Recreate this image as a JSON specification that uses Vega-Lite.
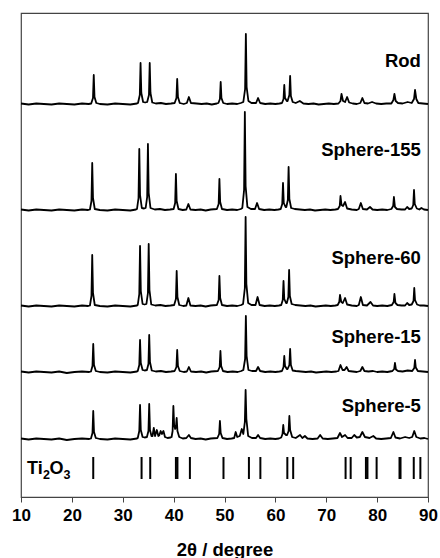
{
  "$schema": "https://vega.github.io/schema/vega-lite/v6.json",
  "width": 407,
  "height": 484,
  "autosize": "none",
  "padding": {"left": 21, "top": 13, "right": 12, "bottom": 61},
  "config": {
    "view": {"stroke": "#444", "strokeWidth": 1.2},
    "font": "Liberation Sans"
  },
  "datasets": {
    "xrd": [
      {"s":"Rod","x":10,"y":393.5},{"s":"Rod","x":11.5,"y":392.5},{"s":"Rod","x":13,"y":393.5},{"s":"Rod","x":14.5,"y":393},{"s":"Rod","x":16,"y":392.5},{"s":"Rod","x":17.5,"y":393.5},{"s":"Rod","x":19,"y":393},{"s":"Rod","x":20.5,"y":392.5},{"s":"Rod","x":22,"y":393.5},{"s":"Rod","x":23.3,"y":393},
      {"s":"Rod","x":23.8,"y":393.5},{"s":"Rod","x":24.15,"y":399},{"s":"Rod","x":24.3,"y":422},{"s":"Rod","x":24.45,"y":400},{"s":"Rod","x":24.8,"y":394},
      {"s":"Rod","x":25.5,"y":393},{"s":"Rod","x":27,"y":392.5},{"s":"Rod","x":28.5,"y":393.5},{"s":"Rod","x":30,"y":393},{"s":"Rod","x":31.5,"y":392.5},{"s":"Rod","x":32.8,"y":393.5},
      {"s":"Rod","x":33.0,"y":394},{"s":"Rod","x":33.35,"y":402},{"s":"Rod","x":33.5,"y":434},{"s":"Rod","x":33.65,"y":404},{"s":"Rod","x":34.0,"y":395},{"s":"Rod","x":34.4,"y":394.5},
      {"s":"Rod","x":34.8,"y":395},{"s":"Rod","x":35.15,"y":402},{"s":"Rod","x":35.3,"y":434},{"s":"Rod","x":35.45,"y":404},{"s":"Rod","x":35.8,"y":394.5},
      {"s":"Rod","x":36.5,"y":393.5},{"s":"Rod","x":37.5,"y":394},{"s":"Rod","x":38.5,"y":393},{"s":"Rod","x":39.5,"y":393.5},{"s":"Rod","x":40.2,"y":394},
      {"s":"Rod","x":40.55,"y":399},{"s":"Rod","x":40.7,"y":418},{"s":"Rod","x":40.85,"y":400},{"s":"Rod","x":41.2,"y":394},
      {"s":"Rod","x":42,"y":393},{"s":"Rod","x":42.6,"y":394},{"s":"Rod","x":43.0,"y":400},{"s":"Rod","x":43.4,"y":394},{"s":"Rod","x":44.5,"y":393.5},{"s":"Rod","x":45.5,"y":393},{"s":"Rod","x":46.5,"y":393.5},{"s":"Rod","x":47.5,"y":392.5},{"s":"Rod","x":48.5,"y":393.5},{"s":"Rod","x":48.8,"y":394},
      {"s":"Rod","x":49.1,"y":398},{"s":"Rod","x":49.25,"y":415},{"s":"Rod","x":49.4,"y":399},{"s":"Rod","x":49.75,"y":394},
      {"s":"Rod","x":50.5,"y":393},{"s":"Rod","x":51.5,"y":393.5},{"s":"Rod","x":52.5,"y":393},{"s":"Rod","x":53.2,"y":394},{"s":"Rod","x":53.7,"y":395},
      {"s":"Rod","x":54.05,"y":408},{"s":"Rod","x":54.2,"y":463},{"s":"Rod","x":54.35,"y":410},{"s":"Rod","x":54.7,"y":396},
      {"s":"Rod","x":55.3,"y":394},{"s":"Rod","x":56.2,"y":394},{"s":"Rod","x":56.6,"y":399},{"s":"Rod","x":57.0,"y":394},{"s":"Rod","x":58,"y":393},{"s":"Rod","x":59,"y":393.5},{"s":"Rod","x":60,"y":393},{"s":"Rod","x":60.8,"y":393.5},{"s":"Rod","x":61.3,"y":394},
      {"s":"Rod","x":61.6,"y":398},{"s":"Rod","x":61.75,"y":412},{"s":"Rod","x":61.9,"y":399},{"s":"Rod","x":62.25,"y":396},
      {"s":"Rod","x":62.4,"y":396},{"s":"Rod","x":62.75,"y":402},{"s":"Rod","x":62.9,"y":421},{"s":"Rod","x":63.05,"y":401},{"s":"Rod","x":63.4,"y":395},
      {"s":"Rod","x":64,"y":394},{"s":"Rod","x":64.8,"y":396},{"s":"Rod","x":65.5,"y":393.5},{"s":"Rod","x":66.5,"y":393},{"s":"Rod","x":67.5,"y":393.5},{"s":"Rod","x":68.5,"y":392.5},{"s":"Rod","x":69.5,"y":393},{"s":"Rod","x":70.5,"y":393.5},{"s":"Rod","x":71.5,"y":393},{"s":"Rod","x":72.4,"y":393.5},
      {"s":"Rod","x":72.8,"y":396},{"s":"Rod","x":73.0,"y":403},{"s":"Rod","x":73.3,"y":396},{"s":"Rod","x":73.7,"y":395},{"s":"Rod","x":74.1,"y":400},{"s":"Rod","x":74.5,"y":394.5},{"s":"Rod","x":75.2,"y":393.5},{"s":"Rod","x":76,"y":393},{"s":"Rod","x":76.7,"y":394},{"s":"Rod","x":77.1,"y":399},{"s":"Rod","x":77.5,"y":394},{"s":"Rod","x":78.2,"y":393.5},{"s":"Rod","x":79,"y":395},{"s":"Rod","x":79.8,"y":393.5},{"s":"Rod","x":80.8,"y":393},{"s":"Rod","x":81.8,"y":393.5},{"s":"Rod","x":82.8,"y":393.5},
      {"s":"Rod","x":83.2,"y":397},{"s":"Rod","x":83.4,"y":403},{"s":"Rod","x":83.65,"y":396},{"s":"Rod","x":84.1,"y":394},{"s":"Rod","x":85,"y":393.5},{"s":"Rod","x":86,"y":395},{"s":"Rod","x":86.8,"y":394},{"s":"Rod","x":87.25,"y":398},{"s":"Rod","x":87.45,"y":407},{"s":"Rod","x":87.7,"y":398},{"s":"Rod","x":88.1,"y":394},{"s":"Rod","x":89,"y":393.5},{"s":"Rod","x":90,"y":393},

      {"s":"S155","x":10,"y":287.5},{"s":"S155","x":11.5,"y":286.5},{"s":"S155","x":13,"y":287.5},{"s":"S155","x":14.5,"y":287},{"s":"S155","x":16,"y":286.5},{"s":"S155","x":17.5,"y":287.5},{"s":"S155","x":19,"y":287},{"s":"S155","x":20.5,"y":286.5},{"s":"S155","x":22,"y":287.5},{"s":"S155","x":23.2,"y":287},
      {"s":"S155","x":23.55,"y":287.5},{"s":"S155","x":23.85,"y":296},{"s":"S155","x":24.0,"y":334},{"s":"S155","x":24.15,"y":299},{"s":"S155","x":24.5,"y":288},
      {"s":"S155","x":25.5,"y":287},{"s":"S155","x":27,"y":286.5},{"s":"S155","x":28.5,"y":287.5},{"s":"S155","x":30,"y":287},{"s":"S155","x":31.5,"y":286.5},{"s":"S155","x":32.6,"y":287.5},
      {"s":"S155","x":32.8,"y":288},{"s":"S155","x":33.1,"y":299},{"s":"S155","x":33.25,"y":348},{"s":"S155","x":33.4,"y":302},{"s":"S155","x":33.75,"y":289},{"s":"S155","x":34.2,"y":288.5},
      {"s":"S155","x":34.5,"y":289},{"s":"S155","x":34.8,"y":300},{"s":"S155","x":34.95,"y":353},{"s":"S155","x":35.1,"y":304},{"s":"S155","x":35.45,"y":289},
      {"s":"S155","x":36.3,"y":287.5},{"s":"S155","x":37.3,"y":288},{"s":"S155","x":38.3,"y":287},{"s":"S155","x":39.3,"y":287.5},{"s":"S155","x":40.0,"y":288},
      {"s":"S155","x":40.3,"y":294},{"s":"S155","x":40.45,"y":323},{"s":"S155","x":40.6,"y":296},{"s":"S155","x":40.95,"y":288},
      {"s":"S155","x":41.8,"y":287},{"s":"S155","x":42.5,"y":287.5},{"s":"S155","x":42.9,"y":293},{"s":"S155","x":43.3,"y":287.5},{"s":"S155","x":44.3,"y":287},{"s":"S155","x":45.3,"y":287.5},{"s":"S155","x":46.3,"y":286.5},{"s":"S155","x":47.3,"y":287.5},{"s":"S155","x":48.5,"y":288},
      {"s":"S155","x":48.85,"y":293},{"s":"S155","x":49.0,"y":318},{"s":"S155","x":49.15,"y":295},{"s":"S155","x":49.5,"y":288},
      {"s":"S155","x":50.5,"y":287},{"s":"S155","x":51.5,"y":287.5},{"s":"S155","x":52.5,"y":287},{"s":"S155","x":53.2,"y":288},{"s":"S155","x":53.5,"y":289},
      {"s":"S155","x":53.85,"y":307},{"s":"S155","x":54.0,"y":385},{"s":"S155","x":54.15,"y":311},{"s":"S155","x":54.5,"y":290},
      {"s":"S155","x":55.2,"y":288},{"s":"S155","x":56.0,"y":288},{"s":"S155","x":56.4,"y":294},{"s":"S155","x":56.8,"y":288},{"s":"S155","x":57.8,"y":287},{"s":"S155","x":58.8,"y":287.5},{"s":"S155","x":59.8,"y":287},{"s":"S155","x":60.6,"y":287.5},{"s":"S155","x":61.05,"y":288},
      {"s":"S155","x":61.35,"y":293},{"s":"S155","x":61.5,"y":314},{"s":"S155","x":61.65,"y":294},{"s":"S155","x":62.0,"y":290},
      {"s":"S155","x":62.15,"y":290},{"s":"S155","x":62.45,"y":297},{"s":"S155","x":62.6,"y":330},{"s":"S155","x":62.75,"y":298},{"s":"S155","x":63.1,"y":289},
      {"s":"S155","x":63.8,"y":288},{"s":"S155","x":64.8,"y":287.5},{"s":"S155","x":65.8,"y":287},{"s":"S155","x":66.8,"y":287.5},{"s":"S155","x":67.8,"y":286.5},{"s":"S155","x":68.8,"y":287},{"s":"S155","x":69.8,"y":287.5},{"s":"S155","x":70.8,"y":287},{"s":"S155","x":71.8,"y":287.5},{"s":"S155","x":72.3,"y":288},
      {"s":"S155","x":72.65,"y":291},{"s":"S155","x":72.8,"y":301},{"s":"S155","x":73.0,"y":292},{"s":"S155","x":73.3,"y":291},{"s":"S155","x":73.7,"y":295},{"s":"S155","x":74.1,"y":288.5},
      {"s":"S155","x":75,"y":287.5},{"s":"S155","x":76,"y":287},{"s":"S155","x":76.4,"y":288},{"s":"S155","x":76.8,"y":294},{"s":"S155","x":77.2,"y":288},{"s":"S155","x":78,"y":287.5},{"s":"S155","x":78.6,"y":290},{"s":"S155","x":79.1,"y":287.5},{"s":"S155","x":80,"y":287},{"s":"S155","x":81,"y":287.5},{"s":"S155","x":82,"y":287},{"s":"S155","x":82.8,"y":288},
      {"s":"S155","x":83.15,"y":291},{"s":"S155","x":83.3,"y":300},{"s":"S155","x":83.5,"y":290},{"s":"S155","x":83.9,"y":288},
      {"s":"S155","x":84.8,"y":287.5},{"s":"S155","x":85.5,"y":287.5},{"s":"S155","x":85.9,"y":290},{"s":"S155","x":86.3,"y":288},{"s":"S155","x":86.8,"y":288.5},
      {"s":"S155","x":87.1,"y":292},{"s":"S155","x":87.25,"y":307},{"s":"S155","x":87.4,"y":293},{"s":"S155","x":87.8,"y":288.5},
      {"s":"S155","x":88.3,"y":287.5},{"s":"S155","x":88.7,"y":289},{"s":"S155","x":89.2,"y":287.5},{"s":"S155","x":90,"y":287},

      {"s":"S60","x":10,"y":191.5},{"s":"S60","x":11.5,"y":190.5},{"s":"S60","x":13,"y":191.5},{"s":"S60","x":14.5,"y":191},{"s":"S60","x":16,"y":190.5},{"s":"S60","x":17.5,"y":191.5},{"s":"S60","x":19,"y":191},{"s":"S60","x":20.5,"y":190.5},{"s":"S60","x":22,"y":191.5},{"s":"S60","x":23.2,"y":191},
      {"s":"S60","x":23.55,"y":191.5},{"s":"S60","x":23.85,"y":201},{"s":"S60","x":24.0,"y":242},{"s":"S60","x":24.15,"y":204},{"s":"S60","x":24.5,"y":192},
      {"s":"S60","x":25.5,"y":191},{"s":"S60","x":27,"y":190.5},{"s":"S60","x":28.5,"y":191.5},{"s":"S60","x":30,"y":191},{"s":"S60","x":31.5,"y":190.5},{"s":"S60","x":32.8,"y":191.5},
      {"s":"S60","x":32.95,"y":192},{"s":"S60","x":33.25,"y":203},{"s":"S60","x":33.4,"y":251},{"s":"S60","x":33.55,"y":206},{"s":"S60","x":33.9,"y":193},{"s":"S60","x":34.3,"y":192.5},
      {"s":"S60","x":34.65,"y":193},{"s":"S60","x":34.95,"y":204},{"s":"S60","x":35.1,"y":253},{"s":"S60","x":35.25,"y":207},{"s":"S60","x":35.6,"y":192.5},
      {"s":"S60","x":36.4,"y":191.5},{"s":"S60","x":37.4,"y":192},{"s":"S60","x":38.4,"y":191},{"s":"S60","x":39.4,"y":191.5},{"s":"S60","x":40.1,"y":192},
      {"s":"S60","x":40.45,"y":198},{"s":"S60","x":40.6,"y":226},{"s":"S60","x":40.75,"y":200},{"s":"S60","x":41.1,"y":192},
      {"s":"S60","x":41.9,"y":191},{"s":"S60","x":42.5,"y":191.5},{"s":"S60","x":42.9,"y":199},{"s":"S60","x":43.3,"y":191.5},{"s":"S60","x":44.3,"y":191},{"s":"S60","x":45.3,"y":191.5},{"s":"S60","x":46.3,"y":190.5},{"s":"S60","x":47.3,"y":191.5},{"s":"S60","x":48.5,"y":192},
      {"s":"S60","x":48.85,"y":197},{"s":"S60","x":49.0,"y":221},{"s":"S60","x":49.15,"y":199},{"s":"S60","x":49.5,"y":192},
      {"s":"S60","x":50.5,"y":191},{"s":"S60","x":51.5,"y":191.5},{"s":"S60","x":52.5,"y":191},{"s":"S60","x":53.3,"y":192},{"s":"S60","x":53.65,"y":193},
      {"s":"S60","x":54.0,"y":209},{"s":"S60","x":54.15,"y":280},{"s":"S60","x":54.3,"y":213},{"s":"S60","x":54.65,"y":194},
      {"s":"S60","x":55.3,"y":192},{"s":"S60","x":56.1,"y":192},{"s":"S60","x":56.5,"y":200},{"s":"S60","x":56.9,"y":192},{"s":"S60","x":57.9,"y":191},{"s":"S60","x":58.9,"y":191.5},{"s":"S60","x":59.9,"y":191},{"s":"S60","x":60.7,"y":191.5},{"s":"S60","x":61.15,"y":192},
      {"s":"S60","x":61.45,"y":197},{"s":"S60","x":61.6,"y":216},{"s":"S60","x":61.75,"y":198},{"s":"S60","x":62.1,"y":194},
      {"s":"S60","x":62.25,"y":194},{"s":"S60","x":62.55,"y":200},{"s":"S60","x":62.7,"y":227},{"s":"S60","x":62.85,"y":201},{"s":"S60","x":63.2,"y":193},
      {"s":"S60","x":63.9,"y":192},{"s":"S60","x":64.9,"y":191.5},{"s":"S60","x":65.9,"y":191},{"s":"S60","x":66.9,"y":191.5},{"s":"S60","x":67.9,"y":190.5},{"s":"S60","x":68.9,"y":191},{"s":"S60","x":69.9,"y":191.5},{"s":"S60","x":70.9,"y":191},{"s":"S60","x":71.8,"y":191.5},{"s":"S60","x":72.25,"y":192},
      {"s":"S60","x":72.55,"y":195},{"s":"S60","x":72.7,"y":202},{"s":"S60","x":72.95,"y":195},{"s":"S60","x":73.25,"y":194},{"s":"S60","x":73.7,"y":199},{"s":"S60","x":74.1,"y":192.5},
      {"s":"S60","x":75,"y":191.5},{"s":"S60","x":76,"y":191},{"s":"S60","x":76.4,"y":192},{"s":"S60","x":76.8,"y":200},{"s":"S60","x":77.2,"y":192},{"s":"S60","x":78,"y":191.5},{"s":"S60","x":78.7,"y":195},{"s":"S60","x":79.2,"y":191.5},{"s":"S60","x":80,"y":191},{"s":"S60","x":81,"y":191.5},{"s":"S60","x":82,"y":191},{"s":"S60","x":82.9,"y":192},
      {"s":"S60","x":83.25,"y":195},{"s":"S60","x":83.4,"y":203},{"s":"S60","x":83.6,"y":194},{"s":"S60","x":84,"y":192},
      {"s":"S60","x":84.8,"y":191.5},{"s":"S60","x":85.5,"y":191.5},{"s":"S60","x":85.9,"y":194},{"s":"S60","x":86.3,"y":192},{"s":"S60","x":86.8,"y":192.5},
      {"s":"S60","x":87.15,"y":196},{"s":"S60","x":87.3,"y":209},{"s":"S60","x":87.45,"y":197},{"s":"S60","x":87.85,"y":192.5},
      {"s":"S60","x":88.4,"y":191.5},{"s":"S60","x":89.2,"y":191.5},{"s":"S60","x":90,"y":191},

      {"s":"S15","x":10,"y":125.5},{"s":"S15","x":11.5,"y":124.5},{"s":"S15","x":13,"y":125.5},{"s":"S15","x":14.5,"y":125},{"s":"S15","x":16,"y":124.5},{"s":"S15","x":17.5,"y":125.5},{"s":"S15","x":19,"y":124},{"s":"S15","x":20.5,"y":125},{"s":"S15","x":22,"y":125.5},{"s":"S15","x":23.4,"y":125},
      {"s":"S15","x":23.75,"y":125.5},{"s":"S15","x":24.05,"y":131},{"s":"S15","x":24.2,"y":153},{"s":"S15","x":24.35,"y":132},{"s":"S15","x":24.7,"y":126},
      {"s":"S15","x":25.5,"y":125},{"s":"S15","x":27,"y":124.5},{"s":"S15","x":28.5,"y":125.5},{"s":"S15","x":30,"y":125},{"s":"S15","x":31.5,"y":124.5},{"s":"S15","x":32.8,"y":125.5},
      {"s":"S15","x":32.95,"y":126},{"s":"S15","x":33.25,"y":132},{"s":"S15","x":33.4,"y":157},{"s":"S15","x":33.55,"y":134},{"s":"S15","x":33.9,"y":127},{"s":"S15","x":34.3,"y":126.5},
      {"s":"S15","x":34.75,"y":127},{"s":"S15","x":35.05,"y":133},{"s":"S15","x":35.2,"y":162},{"s":"S15","x":35.35,"y":135},{"s":"S15","x":35.7,"y":126.5},
      {"s":"S15","x":36.5,"y":125.5},{"s":"S15","x":37.5,"y":126},{"s":"S15","x":38.5,"y":125},{"s":"S15","x":39.5,"y":125.5},{"s":"S15","x":40.2,"y":126},
      {"s":"S15","x":40.55,"y":130},{"s":"S15","x":40.7,"y":147},{"s":"S15","x":40.85,"y":131},{"s":"S15","x":41.2,"y":126},
      {"s":"S15","x":42,"y":125},{"s":"S15","x":42.6,"y":125.5},{"s":"S15","x":43.0,"y":130},{"s":"S15","x":43.4,"y":125.5},{"s":"S15","x":44.4,"y":125},{"s":"S15","x":45.4,"y":125.5},{"s":"S15","x":46.4,"y":124.5},{"s":"S15","x":47.4,"y":125.5},{"s":"S15","x":48.7,"y":126},
      {"s":"S15","x":49.05,"y":130},{"s":"S15","x":49.2,"y":146},{"s":"S15","x":49.35,"y":131},{"s":"S15","x":49.7,"y":126},
      {"s":"S15","x":50.6,"y":125},{"s":"S15","x":51.6,"y":125.5},{"s":"S15","x":52.6,"y":125},{"s":"S15","x":53.3,"y":126},{"s":"S15","x":53.7,"y":127},
      {"s":"S15","x":54.05,"y":138},{"s":"S15","x":54.2,"y":181},{"s":"S15","x":54.35,"y":141},{"s":"S15","x":54.7,"y":127},
      {"s":"S15","x":55.4,"y":126},{"s":"S15","x":56.2,"y":126},{"s":"S15","x":56.6,"y":130},{"s":"S15","x":57.0,"y":126},{"s":"S15","x":58,"y":125},{"s":"S15","x":59,"y":125.5},{"s":"S15","x":60,"y":125},{"s":"S15","x":60.8,"y":125.5},{"s":"S15","x":61.3,"y":126},
      {"s":"S15","x":61.6,"y":130},{"s":"S15","x":61.75,"y":141},{"s":"S15","x":61.9,"y":131},{"s":"S15","x":62.25,"y":128},
      {"s":"S15","x":62.4,"y":128},{"s":"S15","x":62.75,"y":132},{"s":"S15","x":62.9,"y":148},{"s":"S15","x":63.05,"y":132},{"s":"S15","x":63.4,"y":126.5},
      {"s":"S15","x":64,"y":126},{"s":"S15","x":65,"y":125.5},{"s":"S15","x":66,"y":125},{"s":"S15","x":67,"y":125.5},{"s":"S15","x":68,"y":124.5},{"s":"S15","x":69,"y":125},{"s":"S15","x":70,"y":125.5},{"s":"S15","x":71,"y":125},{"s":"S15","x":72,"y":125.5},{"s":"S15","x":72.4,"y":126},
      {"s":"S15","x":72.8,"y":132},{"s":"S15","x":73.2,"y":127},{"s":"S15","x":73.6,"y":127},{"s":"S15","x":74.0,"y":130},{"s":"S15","x":74.4,"y":126},
      {"s":"S15","x":75.2,"y":125.5},{"s":"S15","x":76,"y":125},{"s":"S15","x":76.7,"y":126},{"s":"S15","x":77.1,"y":130},{"s":"S15","x":77.5,"y":126},{"s":"S15","x":78.3,"y":125.5},{"s":"S15","x":79.2,"y":126},{"s":"S15","x":80,"y":125},{"s":"S15","x":81,"y":125.5},{"s":"S15","x":82,"y":125},{"s":"S15","x":83,"y":126},
      {"s":"S15","x":83.35,"y":128},{"s":"S15","x":83.5,"y":134},{"s":"S15","x":83.7,"y":127.5},{"s":"S15","x":84.1,"y":126},
      {"s":"S15","x":85,"y":125.5},{"s":"S15","x":86,"y":126.5},{"s":"S15","x":86.9,"y":126},{"s":"S15","x":87.3,"y":129},{"s":"S15","x":87.45,"y":137},{"s":"S15","x":87.6,"y":129.5},{"s":"S15","x":88.0,"y":126},{"s":"S15","x":89,"y":125.5},{"s":"S15","x":90,"y":125},

      {"s":"S5","x":10,"y":58.5},{"s":"S5","x":11.5,"y":57.5},{"s":"S5","x":13,"y":58.5},{"s":"S5","x":14.5,"y":58},{"s":"S5","x":16,"y":57.5},{"s":"S5","x":17.5,"y":58.5},{"s":"S5","x":19,"y":57},{"s":"S5","x":20.5,"y":58},{"s":"S5","x":22,"y":58.5},{"s":"S5","x":23.4,"y":58},
      {"s":"S5","x":23.75,"y":58.5},{"s":"S5","x":24.05,"y":64},{"s":"S5","x":24.2,"y":86},{"s":"S5","x":24.35,"y":65},{"s":"S5","x":24.7,"y":59},
      {"s":"S5","x":25.5,"y":58},{"s":"S5","x":27,"y":57.5},{"s":"S5","x":28.5,"y":58.5},{"s":"S5","x":30,"y":58},{"s":"S5","x":31.5,"y":57.5},{"s":"S5","x":32.8,"y":58.5},
      {"s":"S5","x":32.95,"y":59},{"s":"S5","x":33.25,"y":66},{"s":"S5","x":33.4,"y":92},{"s":"S5","x":33.55,"y":67},{"s":"S5","x":33.9,"y":60},{"s":"S5","x":34.3,"y":59.5},
      {"s":"S5","x":34.75,"y":60},{"s":"S5","x":35.05,"y":66},{"s":"S5","x":35.2,"y":93},{"s":"S5","x":35.35,"y":67},{"s":"S5","x":35.65,"y":61},
      {"s":"S5","x":35.85,"y":61},{"s":"S5","x":36.1,"y":69},{"s":"S5","x":36.35,"y":61},{"s":"S5","x":36.7,"y":67},{"s":"S5","x":37.0,"y":61},{"s":"S5","x":37.2,"y":62},{"s":"S5","x":37.45,"y":66},{"s":"S5","x":37.7,"y":63},{"s":"S5","x":38.0,"y":66},{"s":"S5","x":38.3,"y":60},{"s":"S5","x":38.8,"y":59},{"s":"S5","x":39.4,"y":59.5},
      {"s":"S5","x":39.6,"y":60},{"s":"S5","x":39.8,"y":66},{"s":"S5","x":39.95,"y":91},{"s":"S5","x":40.1,"y":72},{"s":"S5","x":40.3,"y":68},{"s":"S5","x":40.45,"y":70},{"s":"S5","x":40.6,"y":79},{"s":"S5","x":40.75,"y":66},{"s":"S5","x":41.1,"y":60},
      {"s":"S5","x":41.8,"y":58.5},{"s":"S5","x":42.5,"y":59},{"s":"S5","x":43.0,"y":62},{"s":"S5","x":43.4,"y":59},{"s":"S5","x":44.3,"y":58},{"s":"S5","x":45.3,"y":58.5},{"s":"S5","x":46.3,"y":57.5},{"s":"S5","x":47.3,"y":58.5},{"s":"S5","x":48.6,"y":59},
      {"s":"S5","x":48.95,"y":63},{"s":"S5","x":49.1,"y":76},{"s":"S5","x":49.25,"y":64},{"s":"S5","x":49.6,"y":59},
      {"s":"S5","x":50.5,"y":58},{"s":"S5","x":51.4,"y":58.5},{"s":"S5","x":51.9,"y":59},{"s":"S5","x":52.2,"y":65},{"s":"S5","x":52.5,"y":60},{"s":"S5","x":53.0,"y":61},{"s":"S5","x":53.4,"y":68},{"s":"S5","x":53.7,"y":63},
      {"s":"S5","x":54.0,"y":75},{"s":"S5","x":54.15,"y":107},{"s":"S5","x":54.3,"y":78},{"s":"S5","x":54.65,"y":61},
      {"s":"S5","x":55.4,"y":59},{"s":"S5","x":56.2,"y":59},{"s":"S5","x":56.6,"y":62},{"s":"S5","x":57.0,"y":59},{"s":"S5","x":58,"y":58},{"s":"S5","x":59,"y":58.5},{"s":"S5","x":60,"y":58},{"s":"S5","x":60.7,"y":58.5},{"s":"S5","x":61.15,"y":59.5},
      {"s":"S5","x":61.4,"y":63},{"s":"S5","x":61.55,"y":72},{"s":"S5","x":61.7,"y":64},{"s":"S5","x":62.1,"y":62},
      {"s":"S5","x":62.3,"y":62},{"s":"S5","x":62.6,"y":66},{"s":"S5","x":62.75,"y":81},{"s":"S5","x":62.9,"y":67},{"s":"S5","x":63.3,"y":60},
      {"s":"S5","x":64,"y":59},{"s":"S5","x":64.85,"y":62},{"s":"S5","x":65.3,"y":59},{"s":"S5","x":65.8,"y":61},{"s":"S5","x":66.3,"y":58.5},{"s":"S5","x":67.3,"y":58},{"s":"S5","x":68.3,"y":58.5},{"s":"S5","x":68.8,"y":62},{"s":"S5","x":69.3,"y":58.5},{"s":"S5","x":70.3,"y":58},{"s":"S5","x":71.3,"y":58.5},{"s":"S5","x":72.2,"y":59},
      {"s":"S5","x":72.7,"y":64},{"s":"S5","x":73.1,"y":60},{"s":"S5","x":73.7,"y":62},{"s":"S5","x":74.2,"y":59},{"s":"S5","x":75.0,"y":59},{"s":"S5","x":75.5,"y":62},{"s":"S5","x":76.0,"y":59.5},{"s":"S5","x":76.6,"y":60},{"s":"S5","x":77.1,"y":65},{"s":"S5","x":77.6,"y":60},{"s":"S5","x":78.5,"y":59},{"s":"S5","x":79.25,"y":61},{"s":"S5","x":79.8,"y":58.5},{"s":"S5","x":80.8,"y":58},{"s":"S5","x":81.8,"y":58.5},{"s":"S5","x":82.7,"y":59},
      {"s":"S5","x":83.2,"y":65},{"s":"S5","x":83.6,"y":59.5},{"s":"S5","x":84.5,"y":58.5},{"s":"S5","x":85.5,"y":60},{"s":"S5","x":86.3,"y":59},{"s":"S5","x":86.9,"y":60},{"s":"S5","x":87.3,"y":66},{"s":"S5","x":87.7,"y":60},{"s":"S5","x":88.5,"y":58.5},{"s":"S5","x":89.3,"y":59},{"s":"S5","x":90,"y":58}
    ],
    "sticks": [
      {"x":24.2},{"x":33.7},{"x":35.4},{"x":40.45},{"x":40.75},{"x":43.2},{"x":49.8},{"x":54.8},{"x":57.05},{"x":62.35},{"x":63.5},{"x":73.8},{"x":74.8},{"x":77.8},{"x":78.1},{"x":79.9},{"x":84.4},{"x":84.6},{"x":87.2},{"x":88.5}
    ],
    "labels": [
      {"x":88.6,"y":436,"t":"Rod"},
      {"x":88.6,"y":347,"t":"Sphere-155"},
      {"x":88.6,"y":239,"t":"Sphere-60"},
      {"x":88.6,"y":160,"t":"Sphere-15"},
      {"x":88.6,"y":91,"t":"Sphere-5"}
    ],
    "ti": [
      {"x":11.2,"y":28}
    ]
  },
  "encoding": {
    "x": {
      "field": "x", "type": "quantitative",
      "scale": {"domain": [10, 90], "nice": false, "zero": false},
      "axis": {
        "values": [10, 20, 30, 40, 50, 60, 70, 80, 90],
        "title": "2θ / degree",
        "grid": false,
        "labelFlush": false,
        "tickSize": 5,
        "tickColor": "#444",
        "domainColor": "#444",
        "labelFont": "Liberation Sans",
        "labelFontWeight": "bold",
        "labelFontSize": 17,
        "labelColor": "black",
        "labelPadding": 5,
        "titleFont": "Liberation Sans",
        "titleFontWeight": "bold",
        "titleFontSize": 18.5,
        "titleColor": "black",
        "titlePadding": 17
      }
    }
  },
  "layer": [
    {
      "data": {"name": "xrd"},
      "mark": {"type": "line", "color": "black", "strokeWidth": 1.8, "strokeJoin": "round"},
      "encoding": {
        "y": {"field": "y", "type": "quantitative", "scale": {"domain": [0, 484], "nice": false, "zero": false}, "axis": null},
        "detail": {"field": "s"}
      }
    },
    {
      "data": {"name": "sticks"},
      "mark": {"type": "rule", "color": "black", "strokeWidth": 2},
      "encoding": {
        "y": {"datum": 18, "type": "quantitative"},
        "y2": {"datum": 40}
      }
    },
    {
      "data": {"name": "labels"},
      "mark": {"type": "text", "align": "right", "baseline": "middle", "font": "Liberation Sans", "fontWeight": "bold", "fontSize": 18.5, "color": "black"},
      "encoding": {
        "y": {"field": "y", "type": "quantitative"},
        "text": {"field": "t"}
      }
    },
    {
      "data": {"name": "ti"},
      "mark": {"type": "text", "align": "left", "baseline": "middle", "font": "Liberation Sans", "fontWeight": "bold", "fontSize": 18, "color": "black", "text": "Ti"},
      "encoding": {
        "y": {"field": "y", "type": "quantitative"}
      }
    },
    {
      "data": {"name": "ti"},
      "mark": {"type": "text", "align": "left", "baseline": "middle", "font": "Liberation Sans", "fontWeight": "bold", "fontSize": 12.5, "color": "black", "text": "2", "dx": 16, "dy": 6},
      "encoding": {
        "y": {"field": "y", "type": "quantitative"}
      }
    },
    {
      "data": {"name": "ti"},
      "mark": {"type": "text", "align": "left", "baseline": "middle", "font": "Liberation Sans", "fontWeight": "bold", "fontSize": 18, "color": "black", "text": "O", "dx": 22.5},
      "encoding": {
        "y": {"field": "y", "type": "quantitative"}
      }
    },
    {
      "data": {"name": "ti"},
      "mark": {"type": "text", "align": "left", "baseline": "middle", "font": "Liberation Sans", "fontWeight": "bold", "fontSize": 12.5, "color": "black", "text": "3", "dx": 36.5, "dy": 6},
      "encoding": {
        "y": {"field": "y", "type": "quantitative"}
      }
    }
  ]
}
